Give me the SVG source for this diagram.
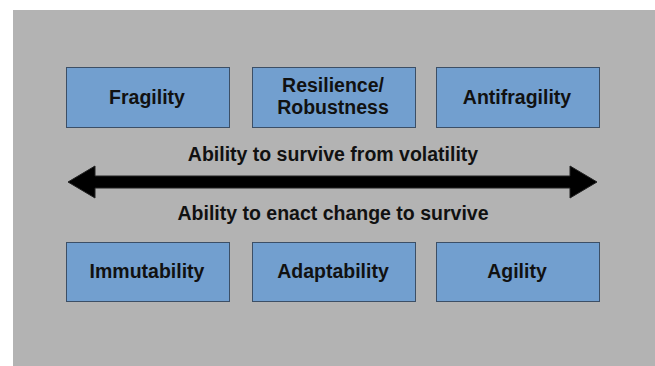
<svg xmlns="http://www.w3.org/2000/svg" width="655" height="366" viewBox="0 0 655 366">
<style>
.box{fill:#729fcf;stroke:#3c4f66;stroke-width:1}
.t{font-family:"Liberation Sans",Arial,sans-serif;font-weight:bold;font-size:19.5px;fill:#111;text-anchor:middle}
</style>
<rect x="0" y="0" width="655" height="366" fill="#ffffff"/>
<rect x="13" y="10" width="642" height="356" fill="#b3b3b3"/>
<g id="connectors">
<path d="M68,182 L95,166 L95,176 L570,176 L570,166 L597,182 L570,198 L570,188 L95,188 L95,198 Z" fill="#000" stroke="#222" stroke-width="1"/>
</g>
<g id="label-top"><text class="t" x="333" y="161">Ability to survive from volatility</text></g>
<g id="label-bottom"><text class="t" x="333" y="220">Ability to enact change to survive</text></g>
<g id="fragility"><rect class="box" x="66.5" y="67.5" width="163" height="60"/><text class="t" x="147" y="104">Fragility</text></g>
<g id="resilience"><rect class="box" x="252.5" y="67.5" width="163" height="60"/><text class="t" x="333" y="92">Resilience/</text><text class="t" x="333" y="114">Robustness</text></g>
<g id="antifragility"><rect class="box" x="436.5" y="67.5" width="163" height="60"/><text class="t" x="517" y="104">Antifragility</text></g>
<g id="immutability"><rect class="box" x="66.5" y="242.5" width="163" height="59"/><text class="t" x="147" y="278">Immutability</text></g>
<g id="adaptability"><rect class="box" x="252.5" y="242.5" width="163" height="59"/><text class="t" x="333" y="278">Adaptability</text></g>
<g id="agility"><rect class="box" x="436.5" y="242.5" width="163" height="59"/><text class="t" x="517" y="278">Agility</text></g>
</svg>
